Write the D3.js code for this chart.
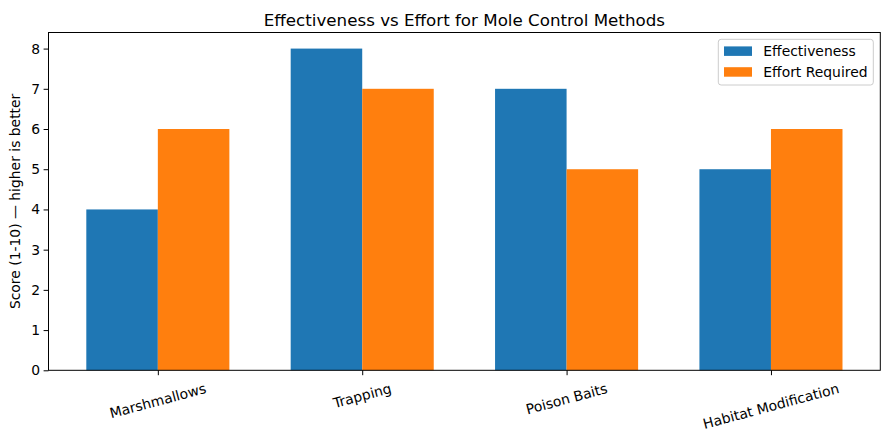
<!DOCTYPE html>
<html><head><meta charset="utf-8">
<script src="https://cdn.jsdelivr.net/npm/d3@7"></script>
<style>body{margin:0;background:#fff}svg{display:block;font-family:"DejaVu Sans",sans-serif}</style>
</head><body>
<svg id="c" width="889" height="440"></svg>
<script>
const categories = ["Marshmallows", "Trapping", "Poison Baits", "Habitat Modification"];
const effectiveness = [4, 8, 7, 5];
const effort = [6, 7, 5, 6];
const seriesNames = ["Effectiveness", "Effort Required"];
const yTicks = [0, 1, 2, 3, 4, 5, 6, 7, 8];

const colors = ["#1f77b4", "#ff7f0e"];
const svg = d3.select("#c");
const L = 48.5, R = 880.3, T = 32.5, B = 370.3;
const barW = 0.35;
const x = d3.scaleLinear().domain([-0.535, 3.535]).range([L, R]);
const y = d3.scaleLinear().domain([0, 8.4]).range([B, T]);

const series = [effectiveness, effort];
series.forEach((vals, si) => {
  svg.append("g").selectAll("rect").data(vals).join("rect")
    .attr("x", (d, i) => x(i + (si === 0 ? -barW : 0)))
    .attr("width", (d, i) => x(i + barW) - x(i))
    .attr("y", d => y(d))
    .attr("height", d => y(0) - y(d))
    .attr("fill", colors[si]);
});

// y axis
const ya = svg.append("g").attr("transform", `translate(${L},0)`)
  .call(d3.axisLeft(y).tickValues(yTicks).tickFormat(d3.format("d")).tickSize(4.9).tickPadding(3.5));
ya.select(".domain").remove();
ya.selectAll("text").attr("font-size", 13.9).attr("font-family", "DejaVu Sans").attr("fill", "#000");
ya.selectAll("line").attr("stroke", "#000").attr("stroke-width", 1);

// x axis
const xa = svg.append("g").attr("transform", `translate(0,${B})`)
  .call(d3.axisBottom(x).tickValues(d3.range(categories.length)).tickFormat(() => "").tickSize(4.9));
xa.select(".domain").remove();
xa.selectAll("line").attr("stroke", "#000").attr("stroke-width", 1);

const s15 = Math.sin(15 * Math.PI / 180), c15 = Math.cos(15 * Math.PI / 180);
categories.forEach((c, i) => {
  const t = svg.append("text").text(c).attr("font-size", 13.9).attr("text-anchor", "middle")
    .attr("dominant-baseline", "central").attr("fill", "#000");
  const w = t.node().getComputedTextLength();
  const h = 13.9 * 1.16;
  const H = w * s15 + h * c15;
  const cy = B + 9.8 + H / 2;
  t.attr("transform", `translate(${x(i)},${cy}) rotate(-15)`);
});

// frame
svg.append("rect").attr("x", L).attr("y", T).attr("width", R - L).attr("height", B - T)
  .attr("fill", "none").attr("stroke", "#000").attr("stroke-width", 1);

// title
svg.append("text").attr("x", (L + R) / 2).attr("y", 26).attr("text-anchor", "middle")
  .attr("font-size", 16.7).attr("fill", "#000").text("Effectiveness vs Effort for Mole Control Methods");

// y label
svg.append("text").attr("transform", `translate(19.5,${(T + B) / 2}) rotate(-90)`)
  .attr("text-anchor", "middle").attr("font-size", 13.9).attr("fill", "#000")
  .text("Score (1-10) — higher is better");

// legend
const lg = svg.append("g");
lg.append("rect").attr("x", 718.3).attr("y", 39.3).attr("width", 155).attr("height", 45.7)
  .attr("rx", 2.8).attr("fill", "#fff").attr("fill-opacity", 0.8).attr("stroke", "#cccccc").attr("stroke-width", 1);
seriesNames.forEach((n, i) => {
  const yy = 51 + i * 20.8;
  lg.append("rect").attr("x", 724).attr("y", yy - 4.6).attr("width", 28).attr("height", 9.5).attr("fill", colors[i]);
  lg.append("text").attr("x", 763.3).attr("y", yy).attr("dominant-baseline", "central")
    .attr("font-size", 13.9).attr("fill", "#000").text(n);
});
</script>
</body></html>
